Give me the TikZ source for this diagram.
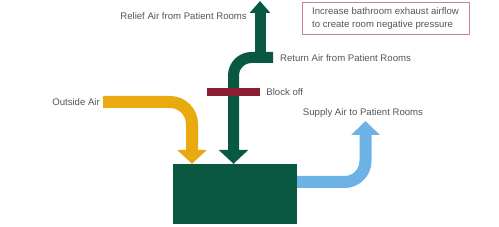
\documentclass[tikz,border=0pt]{standalone}
\usepackage{fontspec}
\setmainfont{Liberation Sans}
\usetikzlibrary{positioning, arrows.meta}
\definecolor{ductgreen}{RGB}{8, 88, 66}
\definecolor{oayellow}{RGB}{232, 170, 14}
\definecolor{sablue}{RGB}{108, 178, 228}
\definecolor{blockred}{RGB}{140, 30, 52}
\definecolor{noteborder}{RGB}{205, 130, 140}
\definecolor{labelgray}{RGB}{85, 85, 85}

\begin{document}
\begin{tikzpicture}[
            x=1pt, y=-1pt,
            unit/.style={fill=ductgreen, minimum width=124pt, minimum height=60pt, inner sep=0pt},
            blockbar/.style={fill=blockred, minimum width=53pt, minimum height=8pt, inner sep=0pt},
            airlabel/.style={text=labelgray, font=\fontsize{9.6}{11.5}\selectfont, inner sep=0pt},
            note/.style={draw=noteborder, line width=0.6pt, minimum width=167pt, minimum height=29pt, align=left, text=labelgray, font=\fontsize{9.6}{12.5}\selectfont, inner sep=5pt},
            duct/.style={line width=12pt, rounded corners=22pt, -{Triangle[width=29pt,length=14pt]}}
        ]
            \useasboundingbox (0,0) rectangle (499,227);

            \node[unit] (ahu) at (235,194) {};

            % air paths
            \coordinate (oa) at (103,102);
            \coordinate (oabend) at (192,102);
            \coordinate (ra) at (273,57.5);
            \coordinate (rabend) at (233.5,57.5);
            \coordinate (rlbase) at (260,57.5);
            \coordinate (rltip) at (260,1);
            \coordinate (sabend) at (365.5,182);
            \coordinate (satip) at (365.5,121);

            \draw[duct, oayellow] (oa) -- (oabend) -- (ahu.north west -| oabend);
            \draw[duct, ductgreen, line width=11pt, -{Triangle[width=20pt,length=12pt]}] (rlbase) -- (rltip);
            \draw[duct, ductgreen, line width=11pt, rounded corners=18pt] (ra) -- (rabend) -- (ahu.north west -| rabend);
            \draw[duct, sablue, rounded corners=21pt, -{Triangle[width=28pt,length=14pt]}] (ahu.east |- sabend) -- (sabend) -- (satip);

            \node[blockbar] (block) at (233.5,92) {};

            % labels
            \node[airlabel, right=6pt of block] (blocklbl) {Block off};
            \node[airlabel, anchor=east] (relieflbl) at (247,16) {Relief Air from Patient Rooms};
            \node[airlabel, anchor=west] (returnlbl) at (280,58) {Return Air from Patient Rooms};
            \node[airlabel, anchor=east] (oalbl) at (100,102) {Outside Air};
            \node[airlabel] (supplylbl) at (363,113) {Supply Air to Patient Rooms};
            \node[note] (note) at (385.5,18.5) {Increase bathroom exhaust airflow\\to create room negative pressure};
        \end{tikzpicture}
\end{document}
